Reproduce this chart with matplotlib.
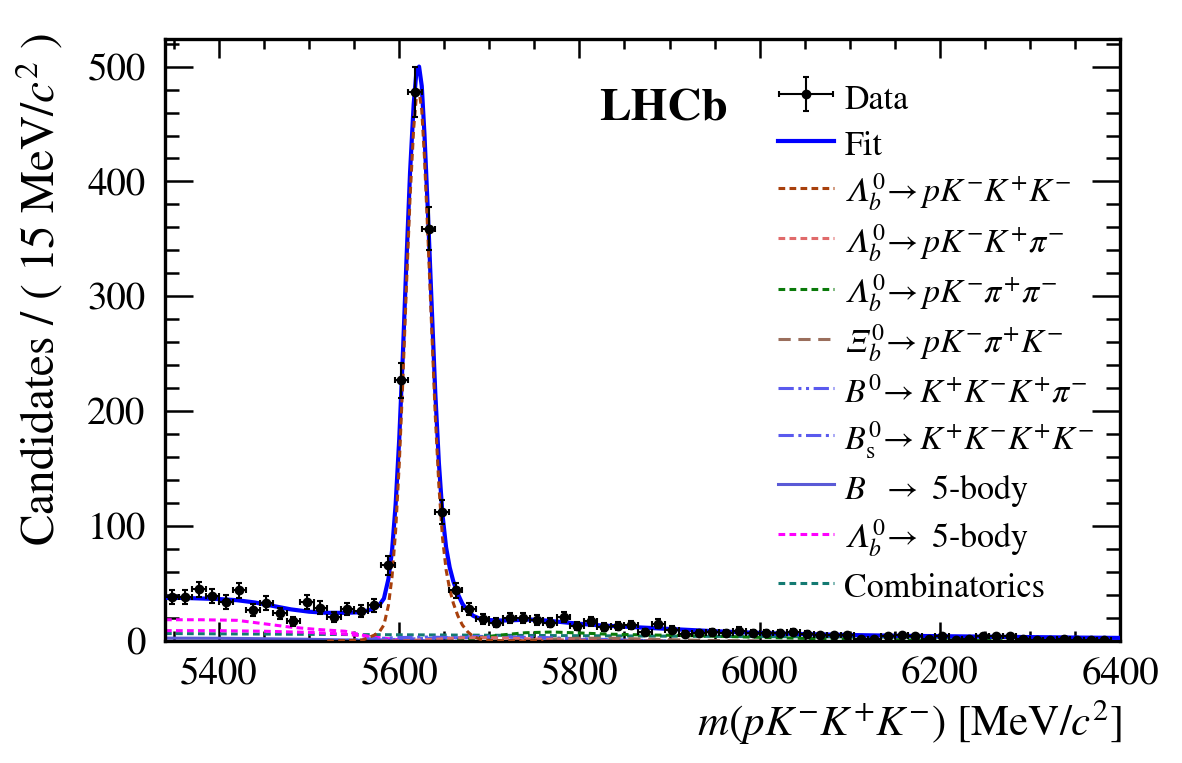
import numpy as np
import matplotlib
matplotlib.use("Agg")
import matplotlib.pyplot as plt
from matplotlib.ticker import MultipleLocator
from matplotlib.legend_handler import HandlerErrorbar
from matplotlib.container import ErrorbarContainer

# ---------------- data ----------------
bin_low = 5340.0
bin_width = 15.0
counts = [38, 38, 45, 39, 34, 44, 27, 33, 24, 17,
          34, 29, 21, 28, 26, 31, 66, 227, 478, 359,
          112, 44, 28, 19, 16, 20, 20, 18, 16, 21,
          13, 17, 12, 13, 14, 8, 15, 10, 6, 7,
          8, 7, 9, 7, 7, 7, 8, 6, 5, 5,
          5, 2, 2, 4, 5, 4, 2, 4, 1, 2,
          4, 4, 4, 2, 1, 1, 2, 1, 1, 1]

fit_mass = [5340, 5360, 5380, 5400, 5420, 5440, 5460, 5480, 5500, 5520,
            5540, 5555, 5565, 5572, 5578, 5583, 5588, 5592, 5596, 5600,
            5604, 5608, 5612, 5616, 5619, 5622, 5625, 5628, 5632, 5636,
            5640, 5644, 5648, 5652, 5656, 5660, 5665, 5670, 5676, 5682,
            5690, 5700, 5715, 5730, 5745, 5760, 5780, 5800, 5825, 5850,
            5875, 5900, 5950, 6000, 6050, 6100, 6150, 6200, 6250, 6300,
            6350, 6400]
fit_vals = [37.5, 37.5, 37.0, 36.5, 35.5, 33.5, 30.5, 27.5, 25.5, 24.5,
            24.5, 25.0, 26.5, 28.5, 31.5, 37.0, 54.0, 78.5, 119, 176,
            249, 331, 408, 467, 495, 500, 483, 441, 370, 292,
            216, 155, 110, 81.5, 64.0, 52.0, 41.0, 32.5, 26.0, 22.0,
            19.2, 18.2, 17.8, 18.2, 18.7, 18.0, 16.5, 15.0, 13.5, 12.5,
            11.5, 10.5, 8.5, 7.0, 6.0, 5.2, 4.6, 4.2, 3.8, 3.4,
            3.0, 2.7]

sig_mass = [5520, 5540, 5560, 5572, 5578, 5583, 5588, 5592, 5596, 5600,
            5604, 5608, 5612, 5616, 5619, 5622, 5625, 5628, 5632, 5636,
            5640, 5644, 5648, 5652, 5656, 5660, 5665, 5670, 5676, 5682,
            5690, 5700, 5715, 5730, 5760]
sig_vals = [0.0, 0.3, 1.0, 5.0, 8.0, 14.0, 31.0, 56.0, 96.0, 154,
            227, 309, 386, 446, 474, 479, 462, 421, 349, 272,
            196, 135, 90.0, 62.0, 45.0, 33.0, 22.0, 14.0, 8.0, 4.0,
            1.5, 0.5, 0.2, 0.1, 0.0]

kkpi_mass = [5580, 5610, 5640, 5670, 5700, 5740, 5780, 5830, 5900]
kkpi_vals = [0.0, 0.4, 1.5, 2.8, 3.0, 2.0, 1.0, 0.3, 0.0]

kpipi_mass = [5640, 5670, 5690, 5710, 5740, 5770, 5800, 5830, 5870, 5900,
              5950, 6000, 6050, 6100, 6200, 6300, 6400]
kpipi_vals = [0.0, 1.0, 3.0, 5.0, 7.2, 7.8, 7.0, 6.0, 5.3, 5.0,
              4.2, 3.2, 2.3, 1.6, 0.6, 0.2, 0.0]

xib_mass = [5700, 5730, 5760, 5800, 5840, 5880, 5940, 6000]
xib_vals = [0.0, 0.6, 1.5, 2.4, 2.4, 1.5, 0.5, 0.0]

b0_mass = [5520, 5545, 5570, 5600, 5630, 5660, 5690, 5720, 5760, 5800, 5850, 5900]
b0_vals = [0.0, 0.6, 2.0, 3.0, 3.4, 3.0, 4.0, 3.5, 2.5, 1.4, 0.5, 0.0]

bs_mass = [5540, 5560, 5600, 5640, 5680, 5720, 5760, 5800, 5850, 5900]
bs_vals = [0.0, 0.5, 1.5, 2.5, 3.0, 3.5, 3.0, 2.0, 0.9, 0.0]

b5_mass = [5340, 5400, 5450, 5500, 5550, 5600, 5650]
b5_vals = [2.5, 2.4, 2.0, 1.5, 0.8, 0.2, 0.0]

lb5_mass = [5340, 5380, 5420, 5450, 5480, 5510, 5540, 5560, 5580, 5600, 5620]
lb5_vals = [18.5, 18.5, 18.0, 15.0, 12.0, 10.0, 8.5, 5.0, 2.0, 0.5, 0.0]

lb5b_mass = [5340, 5400, 5450, 5500, 5540, 5570, 5600, 5630]
lb5b_vals = [9.0, 9.0, 8.5, 7.5, 6.0, 3.5, 1.0, 0.0]

comb_mass = [5340, 5500, 5700, 5900, 6100, 6400]
comb_vals = [6.5, 5.8, 5.0, 4.2, 3.5, 2.7]

labels = ["Data", "Fit",
          r"$\mathit{𝛬}_b^0\!\rightarrow pK^{-}K^{+}K^{-}$",
          r"$\mathit{𝛬}_b^0\!\rightarrow pK^{-}K^{+}\pi^{-}$",
          r"$\mathit{𝛬}_b^0\!\rightarrow pK^{-}\pi^{+}\pi^{-}$",
          r"$\mathit{𝛯}_b^0\!\rightarrow pK^{-}\pi^{+}K^{-}$",
          r"$B^0\!\rightarrow K^{+}K^{-}K^{+}\pi^{-}$",
          r"$B_{\rm s}^0\!\rightarrow K^{+}K^{-}K^{+}K^{-}$",
          r"$B\ \ \rightarrow$ 5-body",
          r"$\mathit{𝛬}_b^0\!\rightarrow$ 5-body",
          "Combinatorics"]

# ---------------- style ----------------
plt.rcParams["font.family"] = ["STIXGeneral", "DejaVu Serif"]
plt.rcParams["mathtext.fontset"] = "stix"

fig = plt.figure(figsize=(11.82, 7.63), dpi=100)
ax = fig.add_axes([165 / 1182, 1 - 641 / 763, 955 / 1182, 602 / 763])

edges = bin_low + bin_width * np.arange(len(counts) + 1)
centers = 0.5 * (edges[:-1] + edges[1:])
cnt = np.array(counts, dtype=float)

lw_c = 2.2
short = (0, (2.2, 1.4))
h_comb, = ax.plot(comb_mass, comb_vals, color="#137a72", lw=lw_c, ls=short, zorder=2)
h_lb5b, = ax.plot(lb5b_mass, lb5b_vals, color="#ff00ff", lw=lw_c, ls=short, zorder=2)
h_lb5, = ax.plot(lb5_mass, lb5_vals, color="#ff00ff", lw=lw_c, ls=short, zorder=2)
h_b5, = ax.plot(b5_mass, b5_vals, color="#5a5ad6", lw=lw_c, ls="-", zorder=2)
h_bs, = ax.plot(bs_mass, bs_vals, color="#5a5aee", lw=lw_c, ls=(0, (5, 1.5, 1, 1.5)), zorder=2)
h_b0, = ax.plot(b0_mass, b0_vals, color="#5a5aee", lw=lw_c, ls=(0, (5, 1.5, 1, 1.5, 1, 1.5)), zorder=2)
h_xib, = ax.plot(xib_mass, xib_vals, color="#9a6e5c", lw=lw_c, ls=(0, (4, 2.5)), zorder=2)
h_kpp, = ax.plot(kpipi_mass, kpipi_vals, color="#0a7a0a", lw=lw_c, ls=short, zorder=2)
h_kkp, = ax.plot(kkpi_mass, kkpi_vals, color="#e06a6a", lw=lw_c, ls=short, zorder=2)
h_fit, = ax.plot(fit_mass, fit_vals, color="#0000ff", lw=3.0, zorder=3)
h_sig, = ax.plot(sig_mass, sig_vals, color="#a8400c", lw=lw_c, ls=short, zorder=4)
h_data = ax.errorbar(centers, cnt, xerr=bin_width / 2, yerr=np.sqrt(cnt), fmt="o",
                     color="black", ms=6, elinewidth=1.5, capsize=2.5, capthick=1.5,
                     zorder=5)

ax.set_xlim(5340, 6400)
ax.set_ylim(0, 524)
ax.xaxis.set_major_locator(MultipleLocator(200))
ax.xaxis.set_minor_locator(MultipleLocator(50))
ax.yaxis.set_major_locator(MultipleLocator(100))
ax.yaxis.set_minor_locator(MultipleLocator(20))
ax.tick_params(which="both", direction="in", top=True, right=True, width=1.8,
               labelsize=28)
ax.tick_params(axis="x", which="major", length=14, pad=11)
ax.tick_params(axis="x", which="minor", length=7)
ax.tick_params(axis="y", which="major", length=20, pad=14)
ax.tick_params(axis="y", which="minor", length=10)
for s in ax.spines.values():
    s.set_linewidth(2.4)

fig.text(39 / 1182, 1 - 33 / 763, r"Candidates / ( 15 MeV/$c^2$ )", rotation=90,
         ha="center", va="top", fontsize=34)
fig.text(1122 / 1182, 1 - 722 / 763, r"$m(pK^{-}K^{+}K^{-})$ [MeV/$c^2$]",
         ha="right", va="center", fontsize=31)
fig.text(664 / 1182, 1 - 110 / 763, "LHCb", ha="center", va="center",
         fontsize=34, fontweight="bold")

handles = [h_data, h_fit, h_sig, h_kkp, h_kpp, h_xib, h_b0, h_bs, h_b5, h_lb5, h_comb]
ax.legend(handles, labels, loc="upper left",
          bbox_to_anchor=((778 - 165) / 955, (641 - 80) / 602),
          frameon=False, fontsize=24.5, handlelength=1.65, handleheight=1.2,
          labelspacing=0.27, handletextpad=0.3, borderpad=0, borderaxespad=0,
          handler_map={ErrorbarContainer: HandlerErrorbar(xerr_size=0.8, yerr_size=0.5)})

fig.savefig("out.png", dpi=100)
